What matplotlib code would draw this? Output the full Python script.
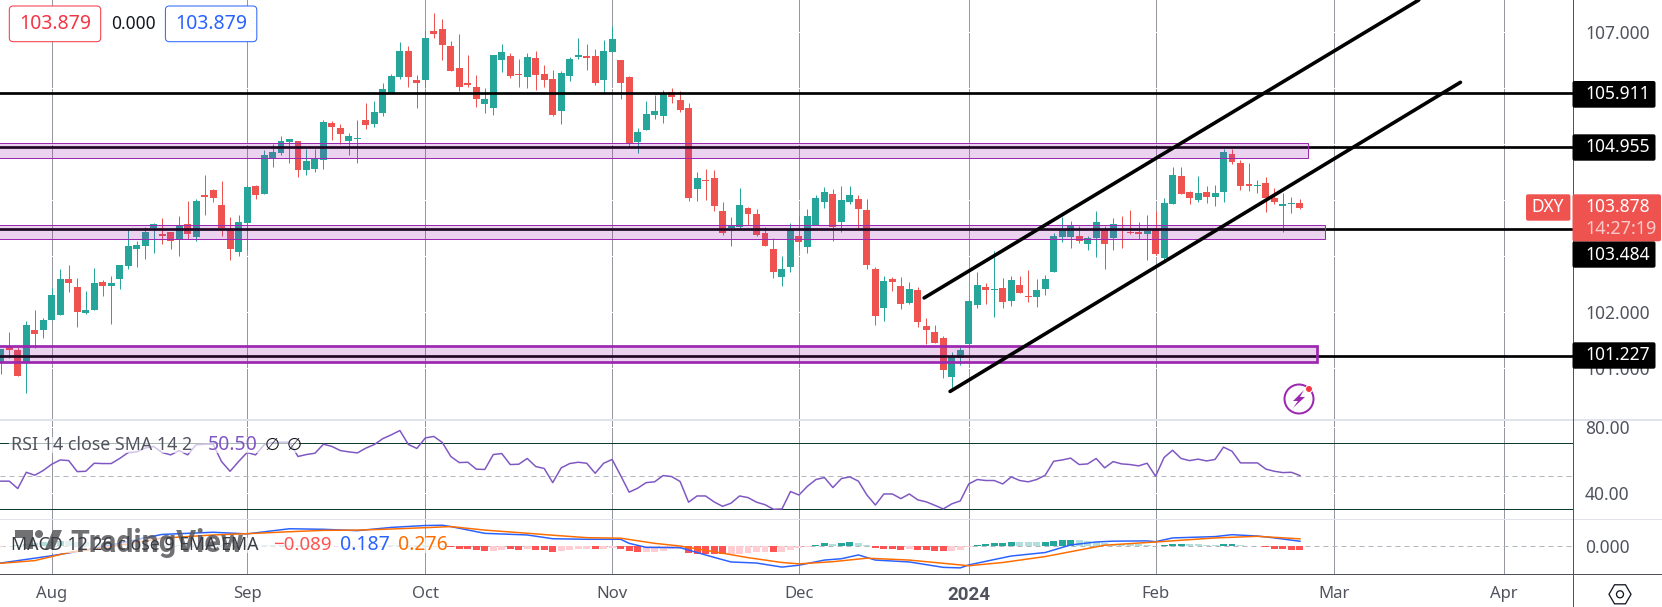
#!/usr/bin/env python3
import matplotlib
matplotlib.use('Agg')
from matplotlib import pyplot as plt
from matplotlib import patches, colors

plt.rcParams['font.family'] = ['Noto Sans', 'DejaVu Sans']

# daily DXY candles, one row per bar: open, high, low, close
candles = [
    (101.12, 101.35, 100.90, 101.35), (101.39, 101.65, 101.18, 101.33), (101.33, 101.39, 100.87, 100.87),
    (101.12, 101.85, 100.57, 101.78), (101.69, 102.04, 101.37, 101.62), (101.69, 101.91, 101.55, 101.87),
    (101.87, 102.43, 101.87, 102.31), (101.96, 102.78, 101.96, 102.60), (102.60, 102.85, 102.37, 102.53),
    (102.46, 102.62, 101.74, 102.01), (101.99, 102.38, 101.97, 102.04), (102.04, 102.79, 102.04, 102.53),
    (102.54, 102.58, 102.29, 102.47), (102.47, 102.65, 101.79, 102.53), (102.60, 102.85, 102.42, 102.85),
    (102.83, 103.47, 102.78, 103.19), (103.13, 103.28, 102.81, 103.20), (103.19, 103.53, 102.95, 103.44),
    (103.51, 103.60, 103.06, 103.58), (103.40, 103.69, 103.22, 103.37), (103.44, 103.44, 103.13, 103.28),
    (103.31, 103.72, 103.01, 103.56), (103.58, 103.99, 103.31, 103.40), (103.35, 104.03, 103.28, 103.99),
    (104.10, 104.45, 103.74, 104.06), (104.19, 104.20, 103.97, 104.04), (103.92, 104.35, 103.37, 103.51),
    (103.47, 103.70, 102.94, 103.13), (103.08, 103.74, 103.01, 103.62), (103.60, 104.28, 103.12, 104.24),
    (104.26, 104.28, 104.03, 104.10), (104.12, 104.90, 104.12, 104.81), (104.76, 105.01, 104.60, 104.87),
    (104.85, 105.15, 104.81, 105.06), (105.04, 105.10, 104.67, 105.10), (105.06, 105.06, 104.42, 104.54),
    (104.54, 104.92, 104.45, 104.70), (104.56, 104.92, 104.51, 104.74), (104.72, 105.44, 104.56, 105.40),
    (105.38, 105.42, 105.08, 105.31), (105.29, 105.37, 105.01, 105.19), (105.06, 105.21, 104.81, 105.15),
    (105.10, 105.44, 104.67, 105.12), (105.44, 105.74, 105.28, 105.35), (105.37, 105.78, 105.31, 105.58),
    (105.56, 106.10, 105.51, 105.99), (105.92, 106.26, 105.92, 106.22), (106.21, 106.83, 106.17, 106.67),
    (106.67, 106.76, 106.03, 106.21), (106.15, 106.24, 105.65, 106.10), (106.15, 107.03, 106.01, 106.90),
    (107.03, 107.35, 106.90, 106.97), (107.06, 107.24, 106.51, 106.78), (106.76, 106.85, 106.31, 106.31),
    (106.37, 106.97, 105.96, 106.03), (106.10, 106.60, 106.03, 106.06), (106.03, 106.24, 105.67, 105.81),
    (105.72, 106.01, 105.56, 105.81), (105.65, 106.60, 105.53, 106.60), (106.51, 106.79, 106.29, 106.65),
    (106.58, 106.63, 106.19, 106.22), (106.26, 106.53, 106.03, 106.24), (106.21, 106.63, 106.01, 106.56),
    (106.54, 106.67, 105.97, 106.24), (106.26, 106.42, 106.03, 106.15), (106.17, 106.33, 105.51, 105.53),
    (105.60, 106.31, 105.37, 106.28), (106.22, 106.56, 106.13, 106.53), (106.56, 106.90, 106.53, 106.60),
    (106.58, 106.79, 106.33, 106.54), (106.58, 106.70, 106.06, 106.10), (106.15, 106.87, 105.92, 106.67),
    (106.65, 107.12, 106.65, 106.88), (106.51, 106.51, 105.81, 106.10), (106.21, 106.22, 104.96, 105.01),
    (105.04, 105.29, 104.85, 105.22), (105.26, 105.78, 105.26, 105.54), (105.53, 105.88, 105.46, 105.60),
    (105.51, 105.97, 105.38, 105.90), (105.94, 106.01, 105.74, 105.85), (105.79, 105.96, 105.58, 105.62),
    (105.65, 105.74, 103.99, 104.04), (104.20, 104.51, 103.99, 104.40), (104.37, 104.56, 104.01, 104.35),
    (104.40, 104.54, 103.81, 103.90), (103.81, 103.97, 103.38, 103.42), (103.51, 103.70, 103.19, 103.54),
    (103.53, 104.22, 103.51, 103.92), (103.87, 103.88, 103.56, 103.76), (103.76, 103.85, 103.37, 103.38),
    (103.42, 103.53, 103.19, 103.19), (103.13, 103.33, 102.62, 102.72), (102.63, 103.01, 102.47, 102.78),
    (102.81, 103.60, 102.72, 103.47), (103.37, 103.72, 103.12, 103.26), (103.17, 103.85, 103.06, 103.72),
    (103.56, 104.10, 103.56, 104.04), (103.97, 104.24, 103.87, 104.15), (104.12, 104.20, 103.28, 103.53),
    (103.62, 104.26, 103.44, 104.01), (103.97, 104.26, 103.94, 104.10), (104.03, 104.10, 103.51, 103.85),
    (103.83, 104.03, 102.78, 102.85), (102.78, 102.81, 101.78, 101.94), (102.08, 102.65, 101.85, 102.56),
    (102.60, 102.63, 102.38, 102.54), (102.47, 102.63, 102.06, 102.15), (102.17, 102.54, 102.15, 102.42),
    (102.40, 102.46, 101.74, 101.83), (101.76, 101.90, 101.44, 101.69), (101.65, 101.78, 101.45, 101.45),
    (101.54, 101.58, 100.83, 100.97), (100.85, 101.29, 100.62, 101.20), (101.19, 101.38, 101.06, 101.33),
    (101.44, 102.24, 101.37, 102.20), (102.13, 102.72, 102.08, 102.49), (102.46, 102.53, 102.15, 102.40),
    (102.40, 103.10, 101.92, 102.42), (102.44, 102.62, 102.08, 102.19), (102.20, 102.65, 102.12, 102.58),
    (102.49, 102.65, 102.35, 102.35), (102.29, 102.76, 102.19, 102.28), (102.28, 102.60, 102.10, 102.40),
    (102.42, 102.67, 102.31, 102.60), (102.72, 103.42, 102.72, 103.37), (103.35, 103.70, 103.26, 103.49),
    (103.35, 103.63, 103.15, 103.54), (103.37, 103.54, 103.24, 103.28), (103.22, 103.37, 103.12, 103.33),
    (103.33, 103.81, 102.99, 103.62), (103.47, 103.54, 102.78, 103.22), (103.33, 103.69, 103.12, 103.58),
    (103.49, 103.72, 103.15, 103.47), (103.44, 103.83, 103.40, 103.42), (103.44, 103.62, 103.31, 103.40),
    (103.40, 103.74, 102.94, 103.45), (103.47, 103.81, 103.03, 103.04), (102.97, 104.04, 102.94, 103.96),
    (103.94, 104.60, 103.94, 104.45), (104.44, 104.60, 104.12, 104.12), (104.15, 104.17, 103.94, 104.04),
    (104.01, 104.44, 103.97, 104.13), (104.15, 104.26, 103.96, 104.06), (104.06, 104.28, 103.90, 104.13),
    (104.15, 104.92, 103.97, 104.87), (104.83, 104.92, 104.65, 104.69), (104.67, 104.72, 104.19, 104.26),
    (104.29, 104.67, 104.17, 104.26), (104.26, 104.37, 104.13, 104.28), (104.31, 104.42, 103.79, 104.04),
    (104.04, 104.22, 103.94, 103.97), (103.90, 104.13, 103.44, 103.94), (103.94, 104.06, 103.78, 103.96),
    (103.96, 104.03, 103.85, 103.87),
]

rsi = [
    46.9, 46.9, 42.4, 52.3, 50.5, 53.4, 57.2, 59.8, 59.4, 52.7, 52.9, 57.8, 57.6, 57.6, 60.7, 64.3,
    64.7, 67.0, 68.0, 64.3, 62.9, 65.5, 62.9, 69.0, 69.4, 69.4, 58.8, 52.9, 58.8, 64.3, 62.9, 69.0,
    70.4, 70.6, 70.6, 61.9, 63.1, 63.9, 69.4, 68.0, 65.5, 64.7, 64.1, 67.0, 69.2, 72.8, 75.1, 77.7,
    69.2, 66.8, 73.2, 74.1, 70.4, 61.9, 58.2, 58.4, 54.2, 54.0, 63.1, 63.7, 57.0, 57.2, 60.7, 55.8,
    54.6, 46.0, 55.0, 57.6, 58.4, 57.8, 51.7, 57.8, 60.1, 50.3, 40.2, 42.6, 46.0, 46.5, 50.3, 49.7,
    46.7, 34.1, 37.9, 37.9, 34.3, 31.6, 33.5, 37.9, 36.9, 34.1, 32.6, 29.8, 30.0, 40.6, 38.5, 43.8,
    47.9, 49.1, 43.0, 48.5, 49.5, 46.9, 38.5, 32.4, 39.1, 39.1, 36.3, 39.1, 35.5, 34.3, 32.2, 30.0,
    33.1, 34.9, 45.2, 47.9, 47.3, 47.3, 45.2, 49.5, 47.3, 46.5, 47.9, 50.5, 59.0, 59.8, 60.9, 57.0,
    57.4, 60.7, 55.0, 58.8, 57.4, 57.0, 56.2, 57.8, 49.9, 61.3, 65.7, 60.7, 59.4, 60.3, 59.2, 60.1,
    67.6, 65.1, 58.0, 58.0, 58.0, 54.2, 52.9, 52.1, 52.3, 50.3,
]

macd_bars = [0, 2, 6, 10, 13, 19, 25, 29, 34, 38, 42, 46, 50, 52, 53, 57, 62, 65, 69, 73, 74, 76, 80, 82, 84, 86,
             89, 92, 94, 97, 99, 101, 103, 107, 111, 113, 114, 117, 119, 123, 126, 129, 131, 135, 136, 138, 143,
             145, 148, 150, 153]
macd_line = [-0.62, -0.53, -0.35, -0.14, 0.05, 0.44, 0.52, 0.46, 0.65, 0.63, 0.58, 0.70, 0.77, 0.78, 0.73, 0.48,
             0.42, 0.28, 0.26, 0.26, 0.11, -0.04, -0.05, -0.23, -0.41, -0.58, -0.62, -0.77, -0.70, -0.51, -0.46,
             -0.32, -0.51, -0.58, -0.78, -0.80, -0.69, -0.49, -0.36, -0.23, 0.05, 0.16, 0.19, 0.20, 0.17, 0.31,
             0.36, 0.43, 0.38, 0.31, 0.187]
signal_bars = [0, 4, 8, 13, 19, 25, 30, 34, 38, 42, 46, 50, 53, 57, 63, 65, 69, 73, 77, 80, 84, 88, 92, 94, 98,
               102, 107, 111, 114, 118, 123, 126, 130, 136, 143, 148, 153]
signal_line = [-0.63, -0.53, -0.23, -0.01, 0.30, 0.42, 0.48, 0.54, 0.59, 0.60, 0.64, 0.69, 0.73, 0.60, 0.46, 0.41,
               0.32, 0.30, 0.11, 0.01, -0.20, -0.42, -0.60, -0.65, -0.57, -0.44, -0.51, -0.63, -0.72, -0.60, -0.38,
               -0.20, 0.04, 0.16, 0.31, 0.37, 0.276]

macd_hist = [
    -0.02, 0.02, 0.05, 0.10, 0.12, 0.15, 0.20, 0.21, 0.20, 0.17, 0.15, 0.12, 0.12, 0.10, 0.10, 0.08,
    0.07, 0.06, 0.05, 0.05, 0.05, 0.05, 0.05, 0.05, 0.04, 0.04, 0.04, 0.04, 0.04, 0.03, 0.03, 0.03,
    0.04, 0.04, 0.04, 0.03, 0.03, 0.03, 0.02, 0.02, 0.01, 0.01, -0.04, -0.04, -0.02, 0.02, 0.03, 0.03,
    0.03, 0.03, 0.03, 0.02, 0.01, -0.02, -0.10, -0.11, -0.14, -0.19, -0.16, -0.12, -0.11, -0.12, -0.11, -0.12,
    -0.14, -0.21, -0.16, -0.12, -0.10, -0.09, -0.10, -0.09, -0.05, -0.10, -0.17, -0.21, -0.20, -0.20, -0.16, -0.10,
    -0.09, -0.25, -0.27, -0.27, -0.27, -0.30, -0.30, -0.30, -0.25, -0.22, -0.22, -0.21, -0.21, -0.15, -0.07, -0.04,
    0.06, 0.12, 0.07, 0.12, 0.16, 0.12, 0.05, -0.05, -0.10, -0.10, -0.12, -0.09, -0.12, -0.12, -0.16, -0.17,
    -0.17, -0.12, -0.04, 0.05, 0.09, 0.12, 0.12, 0.16, 0.16, 0.16, 0.16, 0.16, 0.20, 0.23, 0.23, 0.23,
    0.19, 0.16, 0.12, 0.10, 0.10, 0.09, 0.07, 0.04, 0.02, 0.05, 0.09, 0.09, 0.09, 0.09, 0.06, 0.06,
    0.09, 0.09, 0.05, 0.02, 0.01, -0.04, -0.09, -0.10, -0.12, -0.14,
]
# bars drawn in the pale shade
hist_pale = [0, 42, 43, 44, 58, 59, 62, 66, 67, 68, 69, 71, 72, 76, 77, 78, 79, 80, 86, 87, 88, 89, 90, 92, 93, 94,
             95, 107, 112, 113, 114, 98, 101, 102, 120, 121, 122, 127, 128, 129, 130, 131, 132, 133, 134, 135, 136,
             140, 141, 142, 143, 146, 147, 148, 45, 46, 47, 48, 49, 50, 51, 52] + list(range(8, 42))

month_bars = [6, 29, 50, 72, 94, 114, 136, 157, 177]
month_labels = ['Aug', 'Sep', 'Oct', 'Nov', 'Dec', '2024', 'Feb', 'Mar', 'Apr']
price_ticks = [107, 106, 105, 104, 103, 102, 101]
price_tick_labels = ['107.000', '', '', '', '', '102.000', '101.000']
h_levels = [105.911, 104.955, 103.484, 101.227]
zones = [(105.02, 104.75, 153.97, 1.0), (103.56, 103.31, 156.0, 1.0), (101.41, 101.11, 155.0, 2.7)]
channel_upper = ([108.74, 167.0], [102.26, 107.58])
channel_lower = ([111.8, 171.9], [100.59, 106.11])

W, H = 1662, 607
AXIS_X = 1572.5
PX = 72 / 100
UP, DOWN = '#26a69a', '#ef5350'
TICK_COLOR = '#50535e'
GRID_COLOR = '#9598a1'
PURPLE = '#9c27b0'
MARK_GREY = '#58585c'


def add_pane(top, bottom, ylim):
    ax = fig.add_axes([0, 1 - bottom / H, AXIS_X / W, (bottom - top) / H])
    ax.set_xlim(-0.094, 185.1)
    ax.set_ylim(*ylim)
    for name in ['top', 'left', 'bottom', 'right']:
        ax.spines[name].set_visible(False)
    ax.yaxis.tick_right()
    ax.set_xticks(month_bars)
    ax.tick_params(length=0, labelbottom=False, labelcolor=TICK_COLOR, labelsize=12.5, pad=9)
    ax.set_axisbelow(True)
    ax.grid(axis='x', color=GRID_COLOR, lw=PX)
    ax.grid(axis='y', color='white', lw=PX)
    return ax


fig = plt.figure(figsize=(W / 100, H / 100), dpi=100)

# price pane
ax = add_pane(0, 420, (100.08, 107.58))
ax.set_yticks(price_ticks, price_tick_labels)
bars = list(range(len(candles)))
opens = [c[0] for c in candles]
highs = [c[1] for c in candles]
lows = [c[2] for c in candles]
closes = [c[3] for c in candles]
candle_colors = [UP if c >= o else DOWN for o, c in zip(opens, closes)]
ax.vlines(bars, lows, highs, colors=candle_colors, lw=PX, zorder=3)
ax.bar(bars, [abs(c - o) for o, c in zip(opens, closes)], bottom=[min(o, c) for o, c in zip(opens, closes)],
       width=0.82, color=candle_colors, linewidth=0, zorder=3)
for level in h_levels:
    ax.axhline(level, color='black', lw=2.7 * PX, zorder=4)
for top, bottom, right, edge in zones:
    ax.add_patch(patches.Rectangle((-5, bottom), right + 5, top - bottom, lw=edge * PX,
                                   facecolor=colors.to_rgba(PURPLE, 0.2), edgecolor=PURPLE, zorder=5))
for xs, ys in [channel_upper, channel_lower]:
    ax.plot(xs, ys, color='black', lw=3.6 * PX, solid_capstyle='round', zorder=6)

# RSI pane
ax_rsi = add_pane(420, 519.3, (23.7, 84.1))
ax_rsi.set_yticks([40, 80], ['40.00', '80.00'])
ax_rsi.axhline(70, color='#0d3b2e', lw=PX, zorder=1)
ax_rsi.axhline(30, color='#0d3b2e', lw=PX, zorder=1)
ax_rsi.axhline(50, color='#b2b5be', lw=PX, dashes=(5, 4), zorder=1)
ax_rsi.plot(bars, rsi, color='#7e57c2', lw=1.5 * PX, zorder=3)

# MACD pane
ax_macd = add_pane(519.3, 574, (-1.026, 1.0))
ax_macd.set_yticks([0], ['0.000'])
ax_macd.axhline(0, color='#b2b5be', lw=PX, dashes=(5, 4), zorder=1)
hist_colors = []
for i, v in enumerate(macd_hist):
    if v >= 0:
        hist_colors.append('#b2dfdb' if i in hist_pale else UP)
    else:
        hist_colors.append('#ffcdd2' if i in hist_pale else '#ff5252')
ax_macd.bar(bars, macd_hist, width=0.82, color=hist_colors, linewidth=0, zorder=2)
ax_macd.plot(macd_bars, macd_line, color='#2962ff', lw=1.5 * PX, zorder=3)
ax_macd.plot(signal_bars, signal_line, color='#ff6d00', lw=1.5 * PX, zorder=3)
ax_macd.set_xticks(month_bars, month_labels)
ax_macd.tick_params(axis='x', labelbottom=True, pad=9, labelsize=12)
year_label = ax_macd.get_xticklabels()[5]
year_label.set_family('Roboto')
year_label.set_fontweight('bold')
year_label.set_fontsize(13.5)

# overlay in pixel coordinates for the panel furniture
ov = fig.add_axes([0, 0, 1, 1], zorder=10)
ov.set_xlim(0, W)
ov.set_ylim(H, 0)
ov.axis('off')
ov.patch.set_alpha(0)

ov.plot([0, W], [420, 420], color='#e0e3eb', lw=2 * PX)
ov.plot([0, W], [519.3, 519.3], color='#e0e3eb', lw=PX)
ov.plot([0, W], [574, 574], color=TICK_COLOR, lw=PX)
ov.plot([AXIS_X, AXIS_X], [0, H], color=TICK_COLOR, lw=PX)


def tag(x0, x1, y0, y1, color):
    ov.add_patch(patches.FancyBboxPatch((x0, y0), x1 - x0, y1 - y0, boxstyle='round,pad=0,rounding_size=2',
                                        facecolor=color, edgecolor='none', zorder=3))


def label(x, y, s, color, size=12.5, ha='left', **kw):
    ov.text(x, y, s, color=color, fontsize=size, ha=ha, va='center', zorder=5, **kw)


# price tags
for y0, y1, s in [(81, 107.7, '105.911'), (134.3, 160.7, '104.955'), (241.3, 267.7, '103.484'), (342.3, 368.7, '101.227')]:
    tag(AXIS_X, 1655.5, y0, y1, 'black')
    label(1585, (y0 + y1) / 2, s, 'white')
tag(1526, 1570.4, 194.3, 220.7, DOWN)
label(1548, 207.3, 'DXY', 'white', ha='center')
tag(AXIS_X, 1661, 194.3, 241.3, DOWN)
label(1585, 207.5, '103.878', 'white')
label(1585, 228.5, '14:27:19', colors.to_rgba('white', 0.7), size=13)

# top left value boxes
for x0, x1, c in [(9.3, 100.7, '#f23645'), (165.4, 256.8, '#2962ff')]:
    ov.add_patch(patches.FancyBboxPatch((x0, 6), x1 - x0, 35.7, boxstyle='round,pad=0,rounding_size=4',
                                        facecolor='white', edgecolor=c, lw=PX, zorder=3))
    label((x0 + x1) / 2, 24, '103.879', c, size=14, ha='center')
label(133, 24, '0.000', '#131722', size=12.5, ha='center')

# indicator legends with their pale backing
ov.add_patch(patches.Rectangle((9, 437), 290, 16, facecolor='white', alpha=0.65, edgecolor='none', zorder=1))
ov.add_patch(patches.Rectangle((9, 538), 437, 15, facecolor='white', alpha=0.65, edgecolor='none', zorder=1))

# watermark logo
ov.add_patch(patches.Polygon([(15, 530), (33, 530), (33, 549), (24, 549), (24, 538), (15, 538)],
                             facecolor=MARK_GREY, edgecolor='none', alpha=0.85, zorder=2))
ov.add_patch(patches.Circle((39, 534), 4, facecolor=MARK_GREY, edgecolor='none', alpha=0.85, zorder=2))
ov.add_patch(patches.Polygon([(45, 549), (53, 530), (62, 530), (54, 549)],
                             facecolor=MARK_GREY, edgecolor='none', alpha=0.85, zorder=2))
ov.text(70, 552, 'TradingView', color=MARK_GREY, fontsize=22, family='Roboto', weight='bold', alpha=0.85,
        ha='left', va='baseline', zorder=2)

label(10.7, 445, 'RSI 14 close SMA 14 2', TICK_COLOR, size=12.8)
label(208, 445, '50.50', '#7e57c2', size=14)
label(265, 445, '∅', '#131722')
label(287, 445, '∅', '#131722')
label(10.7, 545, 'MACD 12 26 close 9 EMA EMA', '#3b3d45', size=12.8)
label(273, 545, '\u22120.089', '#ff5252', size=13.5)
label(340, 545, '0.187', '#2962ff', size=14)
label(398, 545, '0.276', '#ff6d00', size=14)

# bolt badge
ov.add_patch(patches.Circle((1299, 399), 14.5, facecolor='none', edgecolor=PURPLE, lw=2 * PX, zorder=3))
ov.add_patch(patches.Polygon([(1304, 390), (1293, 401), (1298, 401), (1293, 408), (1305, 397), (1300, 397)],
                             facecolor=PURPLE, edgecolor='none', zorder=3))
ov.add_patch(patches.Circle((1309, 389), 3.5, facecolor='#f23645', edgecolor='white', lw=PX, zorder=4))

# settings hexagon in the corner
ov.add_patch(patches.RegularPolygon((1620, 594.3), 6, radius=11, orientation=0.5236, facecolor='none',
                                    edgecolor='#131722', lw=1.3 * PX, zorder=3))
ov.add_patch(patches.Circle((1620, 594.3), 3.5, facecolor='none', edgecolor='#131722', lw=1.3 * PX, zorder=3))

fig.savefig('out.png', dpi=100)
